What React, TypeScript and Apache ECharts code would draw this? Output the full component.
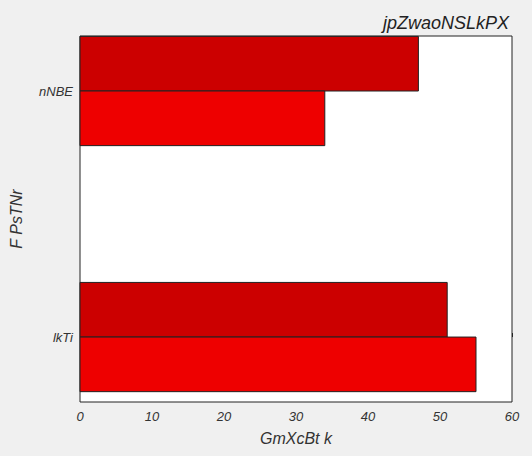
import { useEffect, useRef } from "react";
import * as echarts from "echarts";

const categories = ["lkTi", "nNBE"];
const upperValues = [51, 47]; // dark red
const lowerValues = [55, 34]; // bright red
const xTicks = [0, 10, 20, 30, 40, 50, 60];

const HALF = 0.222;

export default function App() {
  const elRef = useRef<HTMLDivElement>(null);

  useEffect(() => {
    document.body.style.margin = "0";
    if (!elRef.current) return;
    const chart = echarts.init(elRef.current, undefined, { renderer: "svg" });
    const font = { fontFamily: "Liberation Sans", fontStyle: "italic" as const };

    const barSeries = (vals: number[], color: string, upper: boolean) => ({
      type: "custom" as const,
      data: vals.map((v, i) => [v, i]),
      renderItem: (_p: any, api: any) => {
        const v = api.value(0);
        const i = api.value(1);
        const a = api.coord([0, upper ? i + HALF : i]);
        const b = api.coord([v, upper ? i : i - HALF]);
        return {
          type: "rect",
          shape: { x: a[0], y: a[1], width: b[0] - a[0], height: b[1] - a[1] },
          style: { fill: color, stroke: "#222", lineWidth: 1 },
        };
      },
    });

    chart.setOption({
      animation: false,
      backgroundColor: "#f0f0f0",
      title: {
        text: "jpZwaoNSLkPX",
        right: 18,
        top: 9,
        textStyle: { ...font, fontSize: 18, fontWeight: "normal", color: "#222" },
      },
      grid: { left: 80, right: 20, top: 36, bottom: 54, show: true, backgroundColor: "#fff", borderColor: "#222", borderWidth: 1 },
      xAxis: {
        type: "value",
        min: xTicks[0],
        max: xTicks[xTicks.length - 1],
        interval: 10,
        name: "GmXcBt k",
        nameLocation: "middle",
        nameGap: 28,
        nameTextStyle: { ...font, fontSize: 16, color: "#333" },
        axisLine: { show: false },
        axisTick: { show: true, inside: true, length: 4, lineStyle: { color: "#222" } },
        axisLabel: { ...font, fontSize: 13, color: "#333", margin: 8 },
        splitLine: { show: false },
      },
      yAxis: {
        type: "value",
        min: -0.264,
        max: 1.2236,
        interval: 1,
        name: "F PsTNr",
        nameLocation: "middle",
        nameGap: 56,
        nameTextStyle: { ...font, fontSize: 16, color: "#333" },
        axisLine: { show: false },
        axisTick: { show: false },
        axisLabel: {
          ...font,
          fontSize: 13,
          color: "#333",
          margin: 7,
          formatter: (v: number) => categories[Math.round(v)] ?? "",
          customValues: [0, 1],
        },
        splitLine: { show: false },
      },
      series: [barSeries(upperValues, "#cc0000", true), barSeries(lowerValues, "#ee0000", false)],
    });
    return () => chart.dispose();
  }, []);

  return <div ref={elRef} style={{ width: 532, height: 456 }} />;
}
